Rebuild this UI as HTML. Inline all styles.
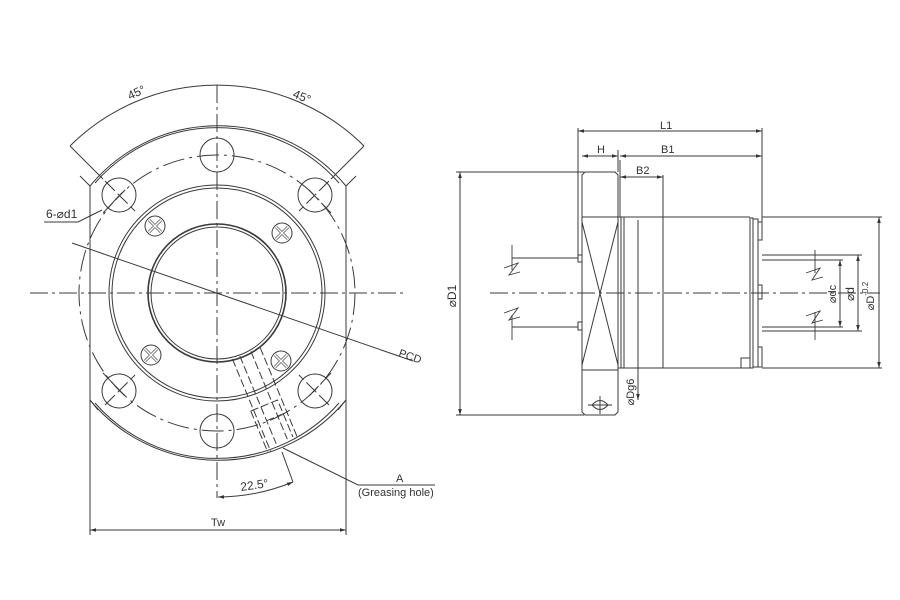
<!DOCTYPE html>
<html><head><meta charset="utf-8"><style>html,body{margin:0;padding:0;background:#fff}svg{display:block}</style></head>
<body>
<svg width="900" height="600" viewBox="0 0 900 600" xmlns="http://www.w3.org/2000/svg" font-family="Liberation Sans Narrow, Liberation Sans, sans-serif" fill="none" stroke="#3a3a3a" stroke-width="1">
<defs>
<marker id="a" viewBox="0 0 10 10" refX="10" refY="5" markerWidth="8" markerHeight="6" orient="auto-start-reverse"><path d="M0,2 L10,5 L0,8" fill="#333" stroke="none"/></marker>
</defs>
<!-- LEFT VIEW -->
<g>
<line x1="30" y1="293" x2="405" y2="293" stroke-dasharray="18,4,3,4"/>
<line x1="217" y1="85" x2="217" y2="498" stroke-dasharray="18,4,3,4"/>
<!-- outer flange arcs -->
<path d="M90,186 A166,166 0 0 1 346,186"/>
<path d="M95,183 A162,162 0 0 1 339,183"/>
<path d="M90,400 A166,166 0 0 0 346,400"/>
<path d="M95,403 A162,162 0 0 0 339,403"/>
<path d="M346,186 L356,176 M90,186 L80,176" />
<line x1="90" y1="186" x2="90" y2="535"/>
<line x1="346" y1="186" x2="346" y2="535"/>
<line x1="90" y1="400" x2="98" y2="410"/><line x1="346" y1="400" x2="338" y2="410"/>
<!-- PCD -->
<circle cx="217" cy="293" r="138" stroke-dasharray="22,5,3,5"/>
<!-- middle -->
<circle cx="217" cy="293" r="105"/>
<circle cx="217" cy="293" r="108"/>
<!-- bore -->
<circle cx="217" cy="293" r="69" stroke-width="1.6"/>
<circle cx="217" cy="293" r="66"/>
<!-- bolt holes -->
<g>
<circle cx="217" cy="155" r="17"/><circle cx="217" cy="431" r="17"/>
<circle cx="119" cy="195" r="17"/><circle cx="315" cy="195" r="17"/>
<circle cx="119" cy="391" r="17"/><circle cx="315" cy="391" r="17"/>
<path d="M105,181 L135,211 M103,213 L126,189 M329,181 L299,211 M331,213 L308,189 M105,405 L135,375 M103,373 L126,397 M329,405 L299,375 M331,373 L308,397" stroke-dasharray="14,4"/>
</g>
<!-- screws -->
<g>
<circle cx="155" cy="226" r="10"/><circle cx="282" cy="233" r="10"/>
<circle cx="151" cy="355" r="10"/><circle cx="281" cy="361" r="10"/>
<path d="M149,220 l12,12 M161,220 l-12,12 M276,227 l12,12 M288,227 l-12,12 M145,349 l12,12 M157,349 l-12,12 M275,355 l12,12 M287,355 l-12,12" stroke-width="3" stroke="#555"/>
<path d="M149,220 l12,12 M161,220 l-12,12 M276,227 l12,12 M288,227 l-12,12 M145,349 l12,12 M157,349 l-12,12 M275,355 l12,12 M287,355 l-12,12" stroke-width="1.5" stroke="#fff"/>
</g>
<!-- PCD leader -->
<line x1="72" y1="243" x2="413" y2="361"/>
<text x="398" y="356" transform="rotate(19 398 356)" font-size="11" fill="#333" stroke="none">PCD</text>
<!-- 6-d1 -->
<text x="46" y="218" font-size="12" fill="#333" stroke="none">6-⌀d1</text>
<path d="M44,222 L78,222 L102,210"/>
<!-- 45 arcs -->
<path d="M70,146 A208,208 0 0 1 364,146"/>
<line x1="70" y1="146" x2="103" y2="179"/><line x1="364" y1="146" x2="331" y2="179"/>
<text x="130" y="100" transform="rotate(-25 130 100)" font-size="12" fill="#333" stroke="none">45°</text>
<text x="292" y="97" transform="rotate(22 292 97)" font-size="12" fill="#333" stroke="none">45°</text>
<!-- greasing hole -->
<g transform="rotate(-22.5 217 293)" stroke-dasharray="8,3">
<line x1="206" y1="360" x2="206" y2="460"/>
<line x1="214" y1="360" x2="214" y2="455"/>
<line x1="226" y1="360" x2="226" y2="455"/>
<line x1="236" y1="360" x2="236" y2="458"/>
<path d="M203,415 L232,415 L232,455 M203,415 L203,460 M214,430 L236,430"/>
</g>
<line x1="282" y1="452" x2="293" y2="482"/>
<path d="M218,497 A200,200 0 0 0 293,482" marker-start="url(#a)" marker-end="url(#a)"/>
<text x="241" y="491" transform="rotate(-8 241 491)" font-size="12" fill="#333" stroke="none">22.5°</text>
<path d="M283,448 L358,485 L435,485"/>
<text x="396" y="482" font-size="11" fill="#333" stroke="none">A</text>
<text x="358" y="496" font-size="11" fill="#333" stroke="none">(Greasing hole)</text>
<!-- Tw -->
<line x1="90" y1="530" x2="346" y2="530" marker-start="url(#a)" marker-end="url(#a)"/>
<text x="211" y="526" font-size="11" fill="#333" stroke="none">Tw</text>
</g>

<!-- RIGHT VIEW -->
<g>
<line x1="490" y1="293" x2="880" y2="293" stroke-dasharray="18,4,3,4"/>
<!-- D1 -->
<line x1="456" y1="172" x2="584" y2="172"/><line x1="456" y1="415" x2="584" y2="415"/>
<line x1="460" y1="172" x2="460" y2="415" marker-start="url(#a)" marker-end="url(#a)"/>
<text x="456" y="296" transform="rotate(-90 456 296)" font-size="12" fill="#333" stroke="none" text-anchor="middle">⌀D1</text>
<!-- flange -->
<path d="M585,172 L615,172 L618,175 L618,412 L615,415 L585,415 L582,412 L582,175 Z"/>
<line x1="582" y1="217" x2="618" y2="217"/>
<line x1="582" y1="370" x2="618" y2="370"/>
<path d="M582,222 L618,365 M618,222 L582,365"/>
<path d="M592,405 Q600,396 608,405 Q600,414 592,405 Z M600,396 L600,414 M588,405 L612,405"/>
<!-- left extension line -->
<line x1="578" y1="128" x2="578" y2="262"/>
<rect x="578" y="255" width="4" height="7"/><rect x="578" y="322" width="4" height="8"/>
<!-- left shaft -->
<line x1="512" y1="258" x2="578" y2="258"/>
<line x1="512" y1="327" x2="578" y2="327"/>
<path d="M512,245 L512,270 M512,315 L512,340 M504,268 L518,263 L509,275 L520,272 M504,313 L518,308 L509,320 L520,317" stroke-width="0.9"/>
<!-- nut body -->
<line x1="618" y1="217" x2="750" y2="217"/>
<line x1="618" y1="368" x2="750" y2="368"/>
<line x1="621" y1="217" x2="621" y2="368"/>
<line x1="624" y1="217" x2="624" y2="368"/>
<line x1="638" y1="220" x2="638" y2="400" marker-end="url(#a)"/>
<text x="634" y="392" transform="rotate(-90 634 392)" font-size="11" fill="#333" stroke="none" text-anchor="middle">⌀Dg6</text>
<line x1="663" y1="175" x2="663" y2="368"/>
<!-- right end -->
<rect x="750" y="218" width="3" height="150"/>
<rect x="753" y="219" width="5" height="148"/>
<rect x="758" y="222" width="4" height="18"/>
<rect x="758" y="285" width="4" height="14"/>
<rect x="758" y="347" width="4" height="20"/>
<rect x="741" y="358" width="9" height="10"/>
<!-- right shaft -->
<line x1="762" y1="255" x2="862" y2="255"/>
<line x1="762" y1="331" x2="862" y2="331"/>
<line x1="762" y1="260" x2="843" y2="260"/>
<line x1="762" y1="327" x2="843" y2="327"/>
<path d="M815,250 L815,273 M815,312 L815,340 M806,273 L820,268 L812,280 L823,277 M806,316 L820,311 L812,323 L823,320" stroke-width="0.9"/>
<line x1="840" y1="260" x2="840" y2="327" marker-start="url(#a)" marker-end="url(#a)"/>
<line x1="858" y1="255" x2="858" y2="331" marker-start="url(#a)" marker-end="url(#a)"/>
<line x1="762" y1="217" x2="882" y2="217"/><line x1="762" y1="368" x2="882" y2="368"/>
<line x1="879" y1="217" x2="879" y2="368" marker-start="url(#a)" marker-end="url(#a)"/>
<text x="836" y="294" transform="rotate(-90 836 294)" font-size="11" fill="#333" stroke="none" text-anchor="middle">⌀dc</text>
<text x="854" y="294" transform="rotate(-90 854 294)" font-size="12" fill="#333" stroke="none" text-anchor="middle">⌀d</text>
<text x="874" y="296" transform="rotate(-90 874 296)" font-size="11" fill="#333" stroke="none" text-anchor="middle">⌀D<tspan font-size="8" dy="-6">-0.2</tspan></text>
<!-- top dims -->
<line x1="762" y1="128" x2="762" y2="222"/>
<line x1="618" y1="150" x2="618" y2="172"/>
<line x1="620" y1="160" x2="620" y2="217"/>
<line x1="578" y1="131" x2="762" y2="131" marker-start="url(#a)" marker-end="url(#a)"/>
<line x1="582" y1="156" x2="618" y2="156" marker-start="url(#a)" marker-end="url(#a)"/>
<line x1="620" y1="156" x2="762" y2="156" marker-start="url(#a)" marker-end="url(#a)"/>
<line x1="620" y1="177" x2="663" y2="177" marker-start="url(#a)" marker-end="url(#a)"/>
<text x="660" y="129" font-size="11" fill="#333" stroke="none">L1</text>
<text x="597" y="153" font-size="11" fill="#333" stroke="none">H</text>
<text x="661" y="153" font-size="11" fill="#333" stroke="none">B1</text>
<text x="636" y="174" font-size="11" fill="#333" stroke="none">B2</text>
</g>
</svg>
</body></html>
